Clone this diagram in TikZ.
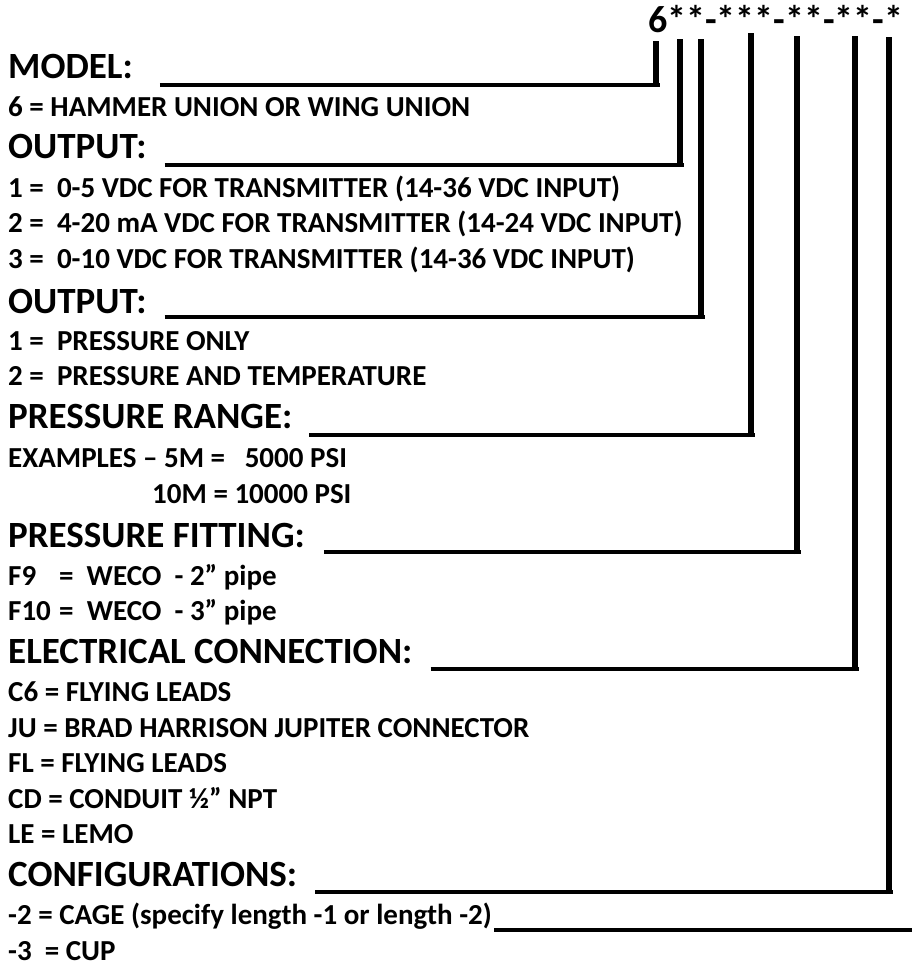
\documentclass[tikz,border=0pt]{standalone}
\usepackage{fontspec}
\setmainfont{Carlito}
\usetikzlibrary{calc, positioning}

\begin{document}
\begin{tikzpicture}[
    x=1pt,
    y=-1pt,
    code/.style={
        anchor=base west,
        inner sep=0pt,
        font=\fontsize{38}{40}\selectfont\bfseries
    },
    head/.style={
        anchor=base west,
        inner sep=0pt,
        font=\fontsize{37}{40}\selectfont\bfseries
    },
    item/.style={
        anchor=base west,
        inner sep=0pt,
        font=\fontsize{29}{32}\selectfont\bfseries
    },
    uline/.style={
        line width=3.5pt
    },
    leader/.style={
        line width=6pt
    }
]

\path[use as bounding box, fill=white] (0,0) rectangle (914,968);

% Bestillingskode
\node[code] (code) at (648,33) {6**-***-**-**-*};

% Overskrifter
\node[head] (h1) at (8,79)  {MODEL:};
\node[head] (h2) at (8,159) {OUTPUT:};
\node[head] (h3) at (8,313) {OUTPUT:};
\node[head] (h4) at (8,428) {PRESSURE RANGE:};
\node[head] (h5) at (8,547) {PRESSURE FITTING:};
\node[head] (h6) at (8,663) {ELECTRICAL CONNECTION:};
\node[head] (h7) at (8,886) {CONFIGURATIONS:};

% Valgmuligheder
\node[item] (i1)  at (8,117) {6 = HAMMER UNION OR WING UNION};
\node[item] (i2)  at (8,198) {1 = ~0-5 VDC FOR TRANSMITTER (14-36 VDC INPUT)};
\node[item] (i3)  at (8,233) {2 = ~4-20 mA VDC FOR TRANSMITTER (14-24 VDC INPUT)};
\node[item] (i4)  at (8,269) {3 = ~0-10 VDC FOR TRANSMITTER (14-36 VDC INPUT)};
\node[item] (i5)  at (8,350) {1 = ~PRESSURE ONLY};
\node[item] (i6)  at (8,385) {2 = ~PRESSURE AND TEMPERATURE};
\node[item] (i7)  at (8,467) {EXAMPLES – 5M = ~~5000 PSI};
\node[item] (i8)  at (152,503) {10M = 10000 PSI};
\node[item] (i9)  at (8,585) {\makebox[51pt][l]{F9}= ~WECO ~- 2” pipe};
\node[item] (i10) at (8,620) {\makebox[51pt][l]{F10}= ~WECO ~- 3” pipe};
\node[item] (i11) at (8,701) {C6 = FLYING LEADS};
\node[item] (i12) at (8,737) {JU = BRAD HARRISON JUPITER CONNECTOR};
\node[item] (i13) at (8,772) {FL = FLYING LEADS};
\node[item] (i14) at (8,808) {CD = CONDUIT ½” NPT};
\node[item] (i15) at (8,843) {LE = LEMO};
\node[item] (i16) at (8,924) {-2 = CAGE (specify length -1 or length -2)};
\node[item] (i17) at (8,960) {-3 ~= CUP};

% Hjoerner og toppunkter under koden
\coordinate (c1) at (656,85);   \coordinate (t1) at (656,41);
\coordinate (c2) at (680,165);  \coordinate (t2) at (680,39);
\coordinate (c3) at (701,317);  \coordinate (t3) at (701,39);
\coordinate (c4) at (751,435);  \coordinate (t4) at (751,33);
\coordinate (c5) at (797,552);  \coordinate (t5) at (797,36);
\coordinate (c6) at (855,669);  \coordinate (t6) at (855,36);
\coordinate (c7) at (889,892);  \coordinate (t7) at (889,37);

% Linjer fra overskrift op til koden
\foreach \n/\gap in {1/27,2/18,3/18,4/17,5/19,6/18,7/18} {
    \draw[uline] ([xshift=\gap pt]h\n.east |- c\n) -- ([xshift=4pt]c\n);
    \draw[leader] ([yshift=-2pt]c\n) -- (t\n);
}

% Laengdefelt
\coordinate (cage end) at (912,930);
\draw[uline] ([xshift=2pt]i16.east |- cage end) -- (cage end);

\end{tikzpicture}
\end{document}
